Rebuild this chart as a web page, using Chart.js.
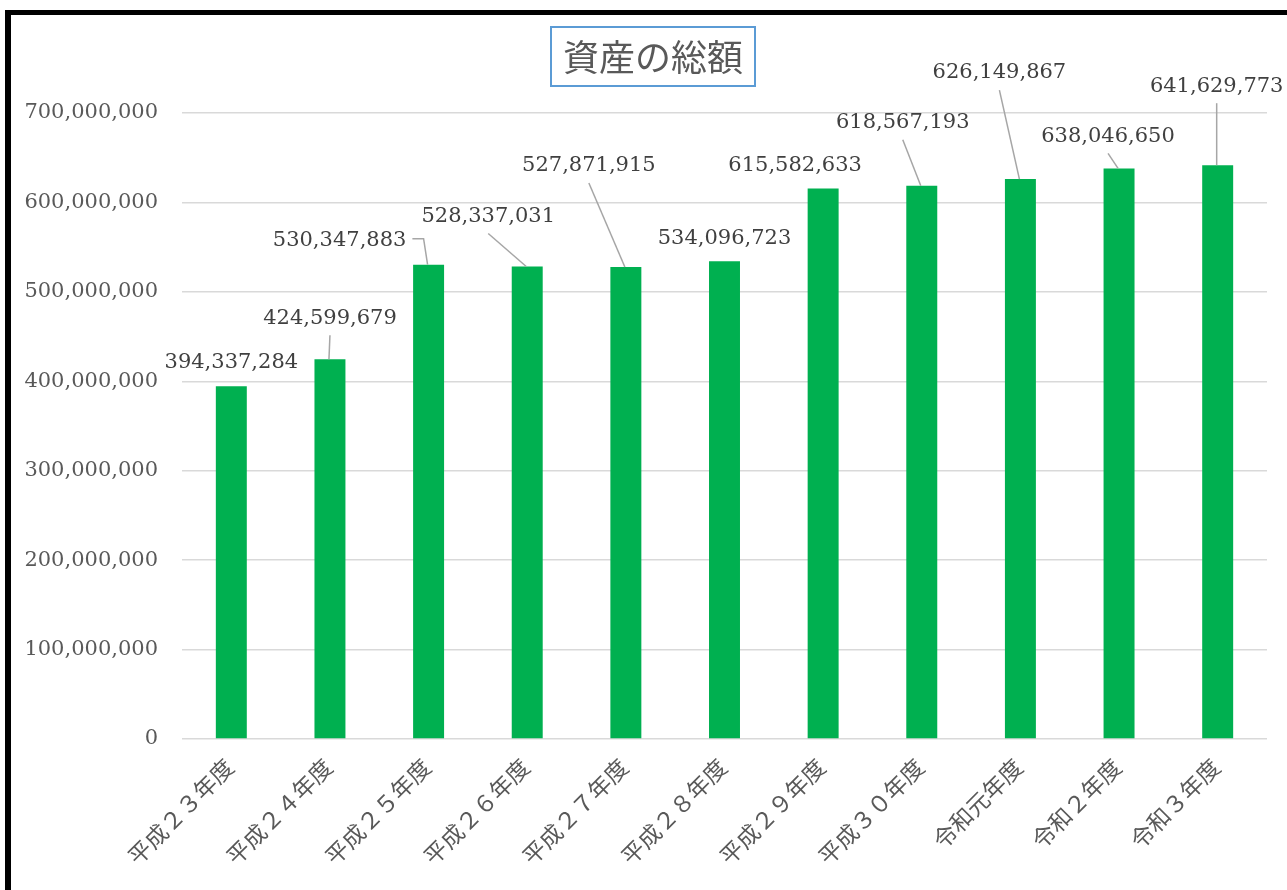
<!DOCTYPE html>
<html>
<head>
<meta charset="utf-8">
<script src="https://cdn.jsdelivr.net/npm/chart.js@4"></script>
<style>
  html, body { margin: 0; padding: 0; background: #fff; }
  #wrap { width: 1287px; height: 890px; position: relative; }
</style>
</head>
<body>
<div id="wrap"><canvas id="chart" width="1287" height="890"></canvas></div>
<script>
// --- datos ---
const categorias = ['平成２３年度', '平成２４年度', '平成２５年度', '平成２６年度', '平成２７年度', '平成２８年度',
                    '平成２９年度', '平成３０年度', '令和元年度', '令和２年度', '令和３年度'];
const totales = [394337284, 424599679, 530347883, 528337031, 527871915, 534096723,
                 615582633, 618567193, 626149867, 638046650, 641629773];
const tituloTexto = '資産の総額';

// posición de cada etiqueta respecto a la parte superior de su barra (como en el original)
const etiquetasPos = [
    { dx: 0,   dy: -24, linea: 'none' },
    { dx: 0,   dy: -41, linea: 'recta' },
    { dx: -89, dy: -24, linea: 'codo' },
    { dx: -39, dy: -50, linea: 'recta' },
    { dx: -37, dy: -101, linea: 'recta' },
    { dx: 0,   dy: -23, linea: 'none' },
    { dx: -28, dy: -23, linea: 'none' },
    { dx: -19, dy: -63, linea: 'recta' },
    { dx: -21, dy: -106, linea: 'recta' },
    { dx: -11, dy: -32, linea: 'recta' },
    { dx: -1,  dy: -79, linea: 'recta' }
];

const fuenteNum = "'DejaVu Serif', 'Noto Sans CJK JP', serif";
const fuenteJa = "'DejaVu Serif', 'Noto Sans CJK JP', serif";

function formatNumber(num) {
    return new Intl.NumberFormat('en-US').format(Math.round(num));
}

// fondo, marco negro y título con recuadro
const marcoPlugin = {
    id: 'marco',
    beforeDraw(chart) {
        const ctx = chart.ctx;
        ctx.save();
        ctx.fillStyle = '#fff';
        ctx.fillRect(0, 0, chart.width, chart.height);
        ctx.fillStyle = '#000';
        ctx.fillRect(5, 10, 6, chart.height - 10);
        ctx.fillRect(5, 10, chart.width - 5, 5);
        ctx.restore();
    },
    afterDraw(chart) {
        const ctx = chart.ctx;
        ctx.save();
        ctx.font = "36px 'Noto Sans CJK JP', sans-serif";
        ctx.fillStyle = '#595959';
        ctx.textAlign = 'center';
        ctx.textBaseline = 'middle';
        ctx.fillText(tituloTexto, 653, 57);
        ctx.strokeStyle = '#5B9BD5';
        ctx.lineWidth = 2;
        ctx.strokeRect(551, 27, 204, 59);
        ctx.restore();
    }
};

// etiquetas de datos con líneas guía
const etiquetasPlugin = {
    id: 'etiquetas',
    afterDatasetsDraw(chart) {
        const ctx = chart.ctx;
        const meta = chart.getDatasetMeta(0);
        ctx.save();
        ctx.font = '21px ' + fuenteNum;
        ctx.textAlign = 'center';
        ctx.textBaseline = 'middle';
        meta.data.forEach((bar, i) => {
            const p = etiquetasPos[i];
            const texto = formatNumber(totales[i]);
            const cx = bar.x + p.dx, cy = bar.y + p.dy;
            ctx.strokeStyle = '#A6A6A6';
            ctx.lineWidth = 1.5;
            if (p.linea === 'recta') {
                ctx.beginPath();
                ctx.moveTo(cx, cy + 17);
                ctx.lineTo(bar.x - 1, bar.y);
                ctx.stroke();
            } else if (p.linea === 'codo') {
                const w = ctx.measureText(texto).width;
                ctx.beginPath();
                ctx.moveTo(cx + w / 2 + 6, cy - 2);
                ctx.lineTo(bar.x - 5, cy - 2);
                ctx.lineTo(bar.x - 1, bar.y);
                ctx.stroke();
            }
            ctx.fillStyle = '#404040';
            ctx.fillText(texto, cx, cy);
        });
        ctx.restore();
    }
};

new Chart(document.getElementById('chart'), {
    type: 'bar',
    data: {
        labels: categorias,
        datasets: [{ data: totales, backgroundColor: '#00B050', barPercentage: 0.314, categoryPercentage: 1 }]
    },
    plugins: [marcoPlugin, etiquetasPlugin],
    options: {
        responsive: false, animation: false,
        layout: { padding: { top: 113, right: 20, left: 0, bottom: 0 } },
        plugins: { legend: { display: false }, tooltip: { enabled: false }, title: { display: false } },
        scales: {
            x: {
                grid: { display: false },
                border: { display: false },
                ticks: { color: '#595959', font: { family: fuenteJa, size: 23 }, minRotation: 45, maxRotation: 45, padding: 8 },
                afterFit: s => { s.height = 151; }
            },
            y: {
                min: 0, max: 700000000,
                grid: { color: '#D9D9D9', lineWidth: 1.5, drawTicks: false },
                border: { display: false },
                ticks: { stepSize: 100000000, color: '#595959', padding: 24,
                         font: { family: fuenteNum, size: 21 },
                         callback: v => formatNumber(v) },
                afterFit: s => { s.width = 182; }
            }
        }
    }
});
</script>
</body>
</html>
